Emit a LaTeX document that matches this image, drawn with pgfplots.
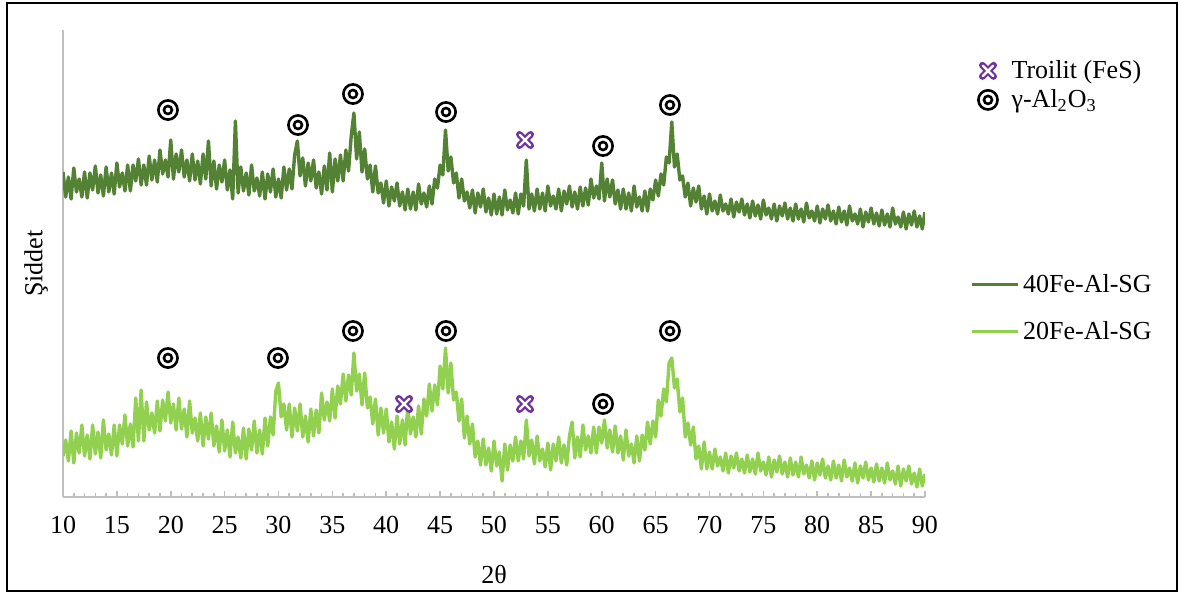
\documentclass[border=0pt]{standalone}
\usepackage{pgfplots}
\pgfplotsset{compat=1.18}
\usepackage{fontspec}
\setmainfont{Liberation Serif}
\definecolor{dkgreen}{HTML}{548235}
\definecolor{ltgreen}{HTML}{92D050}
\definecolor{troil}{HTML}{7030A0}
\definecolor{axgray}{HTML}{BFBFBF}
\pgfdeclareplotmark{dcirc}{%
  \pgfsetlinewidth{1.3pt}\pgfsetstrokecolor{black}%
  \pgfpathcircle{\pgfpointorigin}{4.8pt}\pgfusepathqstroke
  \pgfpathcircle{\pgfpointorigin}{2.0pt}\pgfusepathqstroke}
\pgfdeclareplotmark{troilx}{%
  \pgfsetroundcap
  \pgfsetlinewidth{3.4pt}\pgfsetstrokecolor{troil}%
  \pgfpathmoveto{\pgfpoint{-2.8pt}{-2.8pt}}\pgfpathlineto{\pgfpoint{2.8pt}{2.8pt}}%
  \pgfpathmoveto{\pgfpoint{-2.8pt}{2.8pt}}\pgfpathlineto{\pgfpoint{2.8pt}{-2.8pt}}%
  \pgfusepathqstroke
  \pgfsetlinewidth{1.2pt}\pgfsetstrokecolor{white}%
  \pgfpathmoveto{\pgfpoint{-2.6pt}{-2.6pt}}\pgfpathlineto{\pgfpoint{2.6pt}{2.6pt}}%
  \pgfpathmoveto{\pgfpoint{-2.6pt}{2.6pt}}\pgfpathlineto{\pgfpoint{2.6pt}{-2.6pt}}%
  \pgfusepathqstroke}
\begin{document}
\begin{tikzpicture}
\useasboundingbox (0,0) rectangle (590pt,-296.5pt);
\draw[black,line width=1pt] (3.5pt,-1.5pt) rectangle (588.5pt,-295.5pt);
\begin{axis}[
  at={(31.5pt,-248.5pt)}, anchor=south west,
  scale only axis, width=431pt, height=233.5pt,
  xmin=10, xmax=90, ymin=0, ymax=467,
  axis x line*=bottom, axis y line*=left,
  axis line style={axgray, line width=0.9pt},
  xtick={10,15,...,90}, minor x tick num=4,
  ytick=\empty,
  tick align=inside, xtick pos=bottom,
  major tick length=3.2pt, minor tick length=1.8pt,
  every tick/.style={axgray, line width=0.8pt},
  /pgf/number format/assume math mode=true,
  ticklabel style={font=\fontsize{13}{15}\selectfont, yshift=-6pt},
  xlabel={2θ}, ylabel={Şiddet},
  label style={font=\fontsize{13}{15}\selectfont},
  xlabel style={yshift=-9pt},
  ylabel style={yshift=4pt},
  legend style={draw=none, fill=none, font=\fontsize{13}{15}\selectfont,
    at={(1.045,0.495)}, anchor=north west, row sep=9pt,
    /tikz/every even column/.append style={column sep=2pt}},
  legend cell align=left,
  legend image code/.code={\draw[#1,line width=1.5pt] (0pt,0pt) -- (23pt,0pt);},
]
\addplot[dkgreen, line width=1.7pt, line join=round] coordinates {
(10,325)(10.25,300)(10.5,320)(10.75,298)(11,329)(11.25,305)(11.5,318)(11.75,300)(12,325)(12.25,299)(12.5,324)(12.75,307)(13,331)(13.25,304)(13.5,322)(13.75,301)(14,330)(14.25,305)(14.5,324)(14.75,303)(15,334)(15.25,310)(15.5,324)(15.75,306)(16,332)(16.25,306)(16.5,332)(16.75,316)(17,338)(17.25,312)(17.5,332)(17.75,312)(18,341)(18.25,317)(18.5,337)(18.75,315)(19,347)(19.25,323)(19.5,337)(19.75,320)(20,357)(20.25,318)(20.5,343)(20.75,325)(21,347)(21.25,320)(21.5,337)(21.75,316)(22,343)(22.25,317)(22.5,336)(22.75,313)(23,343)(23.25,318)(23.5,356)(23.75,311)(24,336)(24.25,308)(24.5,332)(24.75,315)(25,337)(25.25,307)(25.5,327)(25.75,298)(26,376)(26.25,304)(26.5,330)(26.75,306)(27,324)(27.25,302)(27.5,332)(27.75,306)(28,319)(28.25,301)(28.5,325)(28.75,298)(29,323)(29.25,305)(29.5,328)(29.75,300)(30,318)(30.25,299)(30.5,330)(30.75,307)(31,328)(31.25,308)(31.5,342)(31.75,356)(32,321)(32.25,339)(32.5,311)(32.75,334)(33,316)(33.25,337)(33.5,309)(33.75,325)(34,303)(34.25,331)(34.5,307)(34.75,344)(35,305)(35.25,338)(35.5,316)(35.75,342)(36,316)(36.25,347)(36.5,326)(36.75,361)(37,384)(37.25,338)(37.5,365)(37.75,325)(38,348)(38.25,318)(38.5,332)(38.75,305)(39,331)(39.25,304)(39.5,314)(39.75,294)(40,316)(40.25,291)(40.5,310)(40.75,296)(41,314)(41.25,291)(41.5,305)(41.75,287)(42,308)(42.25,288)(42.5,305)(42.75,287)(43,313)(43.25,293)(43.5,304)(43.75,290)(44,311)(44.25,293)(44.5,318)(44.75,309)(45,332)(45.25,322)(45.5,367)(45.75,326)(46,340)(46.25,314)(46.5,324)(46.75,299)(47,318)(47.25,296)(47.5,305)(47.75,289)(48,307)(48.25,284)(48.5,304)(48.75,290)(49,308)(49.25,285)(49.5,299)(49.75,282)(50,303)(50.25,283)(50.5,300)(50.75,282)(51,307)(51.25,287)(51.5,297)(51.75,284)(52,304)(52.25,283)(52.5,303)(52.75,291)(53,337)(53.25,288)(53.5,303)(53.75,286)(54,308)(54.25,288)(54.5,304)(54.75,286)(55,311)(55.25,291)(55.5,301)(55.75,288)(56,308)(56.25,286)(56.5,306)(56.75,293)(57,311)(57.25,290)(57.5,305)(57.75,288)(58,310)(58.25,291)(58.5,309)(58.75,292)(59,318)(59.25,299)(59.5,311)(59.75,298)(60,334)(60.25,296)(60.5,318)(60.75,300)(61,317)(61.25,293)(61.5,307)(61.75,288)(62,308)(62.25,288)(62.5,304)(62.75,286)(63,311)(63.25,290)(63.5,300)(63.75,286)(64,306)(64.25,286)(64.5,308)(64.75,297)(65,317)(65.25,301)(65.5,323)(65.75,312)(66,340)(66.25,334)(66.5,375)(66.75,330)(67,343)(67.25,317)(67.5,321)(67.75,300)(68,314)(68.25,291)(68.5,309)(68.75,295)(69,311)(69.25,288)(69.5,301)(69.75,283)(70,303)(70.25,286)(70.5,296)(70.75,283)(71,302)(71.25,286)(71.5,293)(71.75,283)(72,298)(72.25,280)(72.5,295)(72.75,285)(73,298)(73.25,282)(73.5,293)(73.75,279)(74,296)(74.25,281)(74.5,292)(74.75,278)(75,297)(75.25,282)(75.5,289)(75.75,278)(76,293)(76.25,276)(76.5,291)(76.75,281)(77,294)(77.25,278)(77.5,289)(77.75,276)(78,293)(78.25,278)(78.5,288)(78.75,275)(79,294)(79.25,279)(79.5,286)(79.75,276)(80,291)(80.25,274)(80.5,288)(80.75,278)(81,292)(81.25,276)(81.5,286)(81.75,273)(82,290)(82.25,275)(82.5,286)(82.75,272)(83,291)(83.25,276)(83.5,283)(83.75,273)(84,288)(84.25,270)(84.5,285)(84.75,275)(85,289)(85.25,273)(85.5,284)(85.75,271)(86,287)(86.25,272)(86.5,283)(86.75,270)(87,289)(87.25,273)(87.5,280)(87.75,270)(88,285)(88.25,268)(88.5,283)(88.75,272)(89,286)(89.25,270)(89.5,281)(89.75,268)(90,285)
};
\addlegendentry{40Fe-Al-SG}
\addplot[ltgreen, line width=1.7pt, line join=round] coordinates {
(10,41)(10.25,57)(10.5,36)(10.75,66)(11,34)(11.25,64)(11.5,44)(11.75,72)(12,41)(12.25,62)(12.5,38)(12.75,72)(13,43)(13.25,65)(13.5,39)(13.75,77)(14,47)(14.25,63)(14.5,42)(14.75,72)(15,41)(15.25,72)(15.5,53)(15.75,82)(16,51)(16.25,73)(16.5,50)(16.75,99)(17,56)(17.25,107)(17.5,56)(17.75,95)(18,67)(18.25,84)(18.5,64)(18.75,96)(19,66)(19.25,97)(19.5,76)(19.75,105)(20,74)(20.25,93)(20.5,67)(20.75,99)(21,68)(21.25,88)(21.5,60)(21.75,96)(22,64)(22.25,79)(22.5,56)(22.75,84)(23,51)(23.25,80)(23.5,58)(23.75,84)(24,51)(24.25,71)(24.5,45)(24.75,77)(25,46)(25.25,67)(25.5,40)(25.75,75)(26,44)(26.25,60)(26.5,39)(26.75,69)(27,38)(27.25,68)(27.5,47)(27.75,76)(28,44)(28.25,67)(28.5,43)(28.75,79)(29,51)(29.25,80)(29.5,62)(29.75,106)(30,114)(30.25,80)(30.5,93)(30.75,67)(31,93)(31.25,60)(31.5,89)(31.75,66)(32,93)(32.25,60)(32.5,81)(32.75,55)(33,88)(33.25,61)(33.5,87)(33.75,64)(34,104)(34.25,77)(34.5,95)(34.75,76)(35,108)(35.25,79)(35.5,111)(35.75,93)(36,123)(36.25,96)(36.5,122)(36.75,102)(37,144)(37.25,106)(37.5,123)(37.75,92)(38,124)(38.25,89)(38.5,100)(38.75,73)(39,98)(39.25,62)(39.5,89)(39.75,64)(40,88)(40.25,55)(40.5,75)(40.75,48)(41,81)(41.25,53)(41.5,77)(41.75,52)(42,91)(42.25,63)(42.5,80)(42.75,60)(43,91)(43.25,63)(43.5,98)(43.75,81)(44,113)(44.25,86)(44.5,112)(44.75,92)(45,131)(45.25,108)(45.5,149)(45.75,104)(46,134)(46.25,97)(46.5,105)(46.75,76)(47,98)(47.25,59)(47.5,81)(47.75,53)(48,73)(48.25,40)(48.5,56)(48.75,32)(49,58)(49.25,32)(49.5,49)(49.75,26)(50,56)(50.25,31)(50.5,45)(50.75,16)(51,53)(51.25,27)(51.5,52)(51.75,36)(52,60)(52.25,36)(52.5,56)(52.75,38)(53,77)(53.25,41)(53.5,57)(53.75,33)(54,61)(54.25,36)(54.5,48)(54.75,30)(55,54)(55.25,27)(55.5,53)(55.75,36)(56,60)(56.25,34)(56.5,52)(56.75,32)(57,61)(57.25,75)(57.5,39)(57.75,60)(58,40)(58.25,72)(58.5,47)(58.75,61)(59,44)(59.25,70)(59.5,44)(59.75,70)(60,54)(60.25,77)(60.5,49)(60.75,67)(61,45)(61.25,71)(61.5,44)(61.75,61)(62,37)(62.25,67)(62.5,41)(62.75,53)(63,34)(63.25,61)(63.5,36)(63.75,62)(64,47)(64.25,75)(64.5,53)(64.75,76)(65,60)(65.25,97)(65.5,81)(65.75,108)(66,95)(66.25,134)(66.5,139)(66.75,109)(67,118)(67.25,85)(67.5,99)(67.75,60)(68,74)(68.25,52)(68.5,70)(68.75,38)(69,51)(69.25,28)(69.5,55)(69.75,28)(70,45)(70.25,28)(70.5,48)(70.75,31)(71,40)(71.25,26)(71.5,44)(71.75,24)(72,41)(72.25,29)(72.5,44)(72.75,26)(73,38)(73.25,24)(73.5,42)(73.75,25)(74,38)(74.25,23)(74.5,44)(74.75,26)(75,35)(75.25,22)(75.5,40)(75.75,20)(76,37)(76.25,25)(76.5,41)(76.75,23)(77,35)(77.25,20)(77.5,39)(77.75,22)(78,35)(78.25,20)(78.5,40)(78.75,23)(79,32)(79.25,19)(79.5,36)(79.75,17)(80,34)(80.25,22)(80.5,38)(80.75,19)(81,31)(81.25,17)(81.5,36)(81.75,19)(82,32)(82.25,16)(82.5,37)(82.75,20)(83,29)(83.25,16)(83.5,34)(83.75,14)(84,31)(84.25,19)(84.5,35)(84.75,17)(85,29)(85.25,15)(85.5,33)(85.75,16)(86,29)(86.25,14)(86.5,34)(86.75,17)(87,26)(87.25,13)(87.5,31)(87.75,11)(88,28)(88.25,16)(88.5,31)(88.75,13)(89,24)(89.25,10)(89.5,28)(89.75,11)(90,23)
};
\addlegendentry{20Fe-Al-SG}
% gamma-Al2O3 markers
\addplot[only marks, mark=dcirc, forget plot] coordinates {
(19.74,387)(31.81,372)(36.91,403)(45.55,385)(60.12,351)(66.33,392)
(19.74,139)(29.95,139)(36.91,166)(45.55,166)(60.12,93)(66.33,166)
};
% Troilit markers
\addplot[only marks, mark=troilx, forget plot] coordinates {
(52.88,357)(41.65,93)(52.88,93)
};
\end{axis}
\begin{axis}[
  at={(31.5pt,-248.5pt)}, anchor=south west,
  scale only axis, width=431pt, height=233.5pt,
  xmin=10, xmax=90, ymin=0, ymax=467, hide axis,
  legend style={draw=none, fill=none, font=\fontsize{13}{15}\selectfont,
    at={(1.0545,0.953)}, anchor=north west, row sep=0pt,
    /tikz/every even column/.append style={column sep=1pt}},
  /tikz/every odd column/.append style={column sep=5pt},
  legend cell align=left,
]
\addlegendimage{only marks, mark=troilx}
\addlegendentry{Troilit (FeS)}
\addlegendimage{only marks, mark=dcirc}
\addlegendentry{γ-Al\textsubscript{2}O\textsubscript{3}}
\end{axis}
\end{tikzpicture}
\end{document}
